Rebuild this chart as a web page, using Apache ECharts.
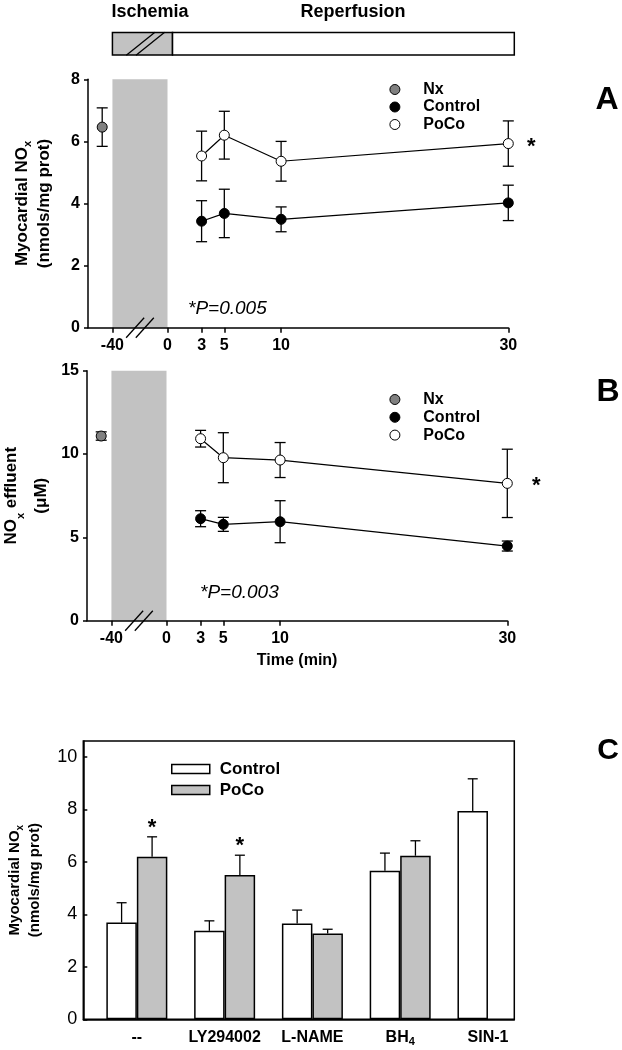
<!DOCTYPE html>
<html><head><meta charset="utf-8">
<script src="https://cdn.jsdelivr.net/npm/echarts@6/dist/echarts.min.js"></script>
<style>html,body{margin:0;padding:0;background:#fff}#c{width:622px;height:1050px}</style>
</head><body><div id="c"></div>
<script>
const FONT = '"Liberation Sans", Arial, sans-serif';

// ---------- Data ----------
// Panel A: myocardial NOx (nmols/mg prot)
const timesA = [3, 5, 10, 30];
const nxA = 6.46, nxAErr = 0.62;
const controlA = [3.43, 3.68, 3.49, 4.02];
const controlAErr = [0.66, 0.78, 0.40, 0.57];
const pocoA = [5.53, 6.20, 5.36, 5.93];
const pocoAErr = [0.80, 0.77, 0.64, 0.73];
// Panel B: NOx effluent (µM)
const timesB = [3, 5, 10, 30];
const nxB = 11.08, nxBErr = 0.25;
const controlB = [6.12, 5.78, 5.94, 4.48];
const controlBErr = [0.48, 0.42, 1.26, 0.30];
const pocoB = [10.92, 9.78, 9.64, 8.24];
const pocoBErr = [0.50, 1.50, 1.05, 2.05];
// Panel C: myocardial NOx by treatment
const categoriesC = ['--', 'LY294002', 'L-NAME', 'BH4', 'SIN-1'];
const controlC = [3.69, 3.37, 3.65, 5.66, 7.93];
const controlCErr = [0.75, 0.38, 0.51, 0.67, 1.23];
const pocoC = [6.19, 5.50, 3.27, 6.23, null];
const pocoCErr = [0.76, 0.75, 0.16, 0.57, null];
const pocoCSig = [1, 1, 0, 0, 0];
// Axis ticks
const tickTimes = [-40, 0, 3, 5, 10, 30];
const xTickLabels = ['-40', '0', '3', '5', '10', '30'];
const yTicksA = [0, 2, 4, 6, 8];
const yTicksB = [0, 5, 10, 15];
const yTicksC = [0, 2, 4, 6, 8, 10];
// Protocol phases (min)
const phases = [[-40, 0], [0, 30]];

// ---------- Broken time axis mapping ----------
const BREAK_POS = -4.85;   // axis position of -40 min (ischemia compressed)
const NX_POS = -5.75;      // baseline (normoxia) point, left of ischemia
function axisPos(t) { return t < 0 ? BREAK_POS * t / -40 : t; }
const tickPos = tickTimes.map(axisPos);
function tickLabel(v) {
  const i = tickPos.findIndex(p => Math.abs(p - v) < 1e-6);
  return i < 0 ? '' : xTickLabels[i];
}

const BLACK = '#000';
const GRAY = '#c2c2c2';
const chart = echarts.init(document.getElementById('c'));

function timeXAxis(gi, extra) {
  return Object.assign({
    type: 'value', gridIndex: gi, min: -7, max: 30, z: 3,
    axisLine: { show: true, onZero: false, lineStyle: { color: BLACK, width: 1.5 } },
    axisTick: { show: true, customValues: tickPos, length: 5, lineStyle: { color: BLACK, width: 1.5 } },
    axisLabel: { customValues: tickPos, formatter: tickLabel, color: BLACK, fontFamily: FONT, fontWeight: 'bold', fontSize: 16, margin: 10 },
    splitLine: { show: false }
  }, extra || {});
}
function nameStyle(size, lh) {
  return {
    fontFamily: FONT, fontWeight: 'bold', fontSize: size, lineHeight: lh, color: BLACK,
    rich: { sub: { fontFamily: FONT, fontWeight: 'bold', fontSize: Math.round(size * 0.65), verticalAlign: 'bottom', lineHeight: lh - 10, color: BLACK } }
  };
}
function valueYAxis(gi, max, ticks, name, gap, size, lh) {
  return {
    type: 'value', gridIndex: gi, min: 0, max: max, z: 3,
    axisLine: { show: true, onZero: false, lineStyle: { color: BLACK, width: 1.5 } },
    axisTick: { show: true, customValues: ticks, length: 4, lineStyle: { color: BLACK, width: 1.5 } },
    axisLabel: { customValues: ticks, color: BLACK, fontFamily: FONT, fontWeight: 'bold', fontSize: 16, margin: 8 },
    splitLine: { show: false },
    name: name, nameLocation: 'middle', nameRotate: 90, nameGap: gap, nameMoveOverlap: false,
    nameTextStyle: nameStyle(size, lh)
  };
}

function errSeries(xi, yi, data, cap, upOnly, barHalf) {
  return {
    type: 'custom', xAxisIndex: xi, yAxisIndex: yi, z: 2, silent: true,
    encode: { x: 0, y: 1 },
    data: data,
    renderItem: function (params, api) {
      const x = api.value(0), y = api.value(1), e = api.value(2);
      const side = api.value(3) || 0, sig = api.value(4) || 0;
      const c = api.coord([x, y]);
      const hi = api.coord([x, y + e]);
      const lo = api.coord([x, y - e]);
      const px = c[0] + side * (barHalf || 0);
      const st = { stroke: BLACK, lineWidth: 1.3 };
      const ch = [
        { type: 'line', shape: { x1: px, y1: upOnly ? c[1] : lo[1], x2: px, y2: hi[1] }, style: st },
        { type: 'line', shape: { x1: px - cap, y1: hi[1], x2: px + cap, y2: hi[1] }, style: st }
      ];
      if (!upOnly) ch.push({ type: 'line', shape: { x1: px - cap, y1: lo[1], x2: px + cap, y2: lo[1] }, style: st });
      if (sig) ch.push({ type: 'text', style: { x: px, y: hi[1] - 9, text: '*', align: 'center', verticalAlign: 'middle', font: 'bold 22px ' + FONT, fill: BLACK } });
      return { type: 'group', children: ch };
    }
  };
}

function breakSeries(xi, yi, yVal, frac, hdx, hdy, sep) {
  return {
    type: 'custom', xAxisIndex: xi, yAxisIndex: yi, z: 10, silent: true,
    data: [[axisPos(-40), yVal]],
    renderItem: function (params, api) {
      const a = api.coord([axisPos(-40), yVal]);
      const b = api.coord([0, yVal]);
      const cx = a[0] + (b[0] - a[0]) * frac, cy = a[1];
      const st = { stroke: BLACK, lineWidth: 1.3 };
      return { type: 'group', children: [-1, 1].map(s => ({
        type: 'line', shape: { x1: cx + s * sep / 2 - hdx, y1: cy + hdy, x2: cx + s * sep / 2 + hdx, y2: cy - hdy }, style: st
      })) };
    }
  };
}

function panelSeries(xi, yi, nx, nxErr, times, ctrl, ctrlErr, poco, pocoErr, yMax, starDx) {
  const errData = [[NX_POS, nx, nxErr]]
    .concat(times.map((t, i) => [axisPos(t), ctrl[i], ctrlErr[i]]))
    .concat(times.map((t, i) => [axisPos(t), poco[i], pocoErr[i]]));
  const last = times.length - 1;
  return [
    breakSeries(xi, yi, 0, 0.5, 9, 10, 9.7),
    errSeries(xi, yi, errData, 5.5, false, 0),
    {
      type: 'scatter', name: 'Nx', xAxisIndex: xi, yAxisIndex: yi, z: 4, silent: true,
      data: [[NX_POS, nx]], symbol: 'circle', symbolSize: 10,
      itemStyle: { color: '#808080', borderColor: BLACK, borderWidth: 1, opacity: 1 }
    },
    {
      type: 'line', name: 'Control', xAxisIndex: xi, yAxisIndex: yi, z: 4, silent: true,
      data: times.map((t, i) => [axisPos(t), ctrl[i]]),
      symbol: 'circle', symbolSize: 10, showSymbol: true,
      itemStyle: { color: BLACK, borderColor: BLACK, borderWidth: 1 },
      lineStyle: { color: BLACK, width: 1.2 },
      markArea: {
        silent: true, itemStyle: { color: GRAY, opacity: 1 },
        data: [[{ xAxis: axisPos(-40), yAxis: 0 }, { xAxis: 0, yAxis: yMax }]]
      }
    },
    {
      type: 'line', name: 'PoCo', xAxisIndex: xi, yAxisIndex: yi, z: 4, silent: true,
      data: times.map((t, i) => [axisPos(t), poco[i]]),
      symbol: 'circle', symbolSize: 10, showSymbol: true,
      itemStyle: { color: '#fff', borderColor: BLACK, borderWidth: 1 },
      lineStyle: { color: BLACK, width: 1.2 },
      markPoint: {
        silent: true, symbol: 'circle', symbolSize: 1, itemStyle: { color: 'rgba(0,0,0,0)' },
        label: { show: true, position: 'inside', formatter: '*', color: BLACK, fontFamily: FONT, fontWeight: 'bold', fontSize: 22, offset: [starDx, 3] },
        data: [{ coord: [axisPos(times[last]), poco[last]] }]
      }
    }
  ];
}

const legendText = { fontFamily: FONT, fontWeight: 'bold', fontSize: 16, lineHeight: 16, color: BLACK };
const dotLegendData = [
  { name: 'Nx', itemStyle: { color: '#808080', borderColor: BLACK, borderWidth: 1 } },
  { name: 'Control', itemStyle: { color: BLACK, borderColor: BLACK, borderWidth: 1 } },
  { name: 'PoCo', itemStyle: { color: '#fff', borderColor: BLACK, borderWidth: 1 } }
];

function txt(x, y, text, font, align) {
  return { type: 'text', x: x, y: y, silent: true, style: { text: text, font: font, fill: BLACK, align: align || 'center', verticalAlign: 'middle' } };
}

const option = {
  animation: false,
  backgroundColor: '#fff',
  grid: [
    { left: 88, right: 113.7, top: 32.5, height: 22.5, outerBoundsMode: 'none' },
    { left: 88, right: 113.7, top: 79.3, height: 248.4, outerBoundsMode: 'none' },
    { left: 87, right: 114.7, top: 370.7, height: 250, outerBoundsMode: 'none' },
    { left: 83.3, right: 107.7, top: 741, height: 278.3, outerBoundsMode: 'none', show: true, borderColor: BLACK, borderWidth: 1.5, backgroundColor: 'rgba(0,0,0,0)' }
  ],
  xAxis: [
    { type: 'value', gridIndex: 0, min: -7, max: 30, show: false },
    timeXAxis(1),
    timeXAxis(2, { name: 'Time (min)', nameLocation: 'middle', nameGap: 32, nameMoveOverlap: false, nameTextStyle: { fontFamily: FONT, fontWeight: 'bold', fontSize: 16, color: BLACK } }),
    {
      type: 'value', gridIndex: 3, min: -0.61, max: 4.3, z: 3,
      axisLine: { show: true, onZero: false, lineStyle: { color: BLACK, width: 1.5 } },
      axisTick: { show: false },
      axisLabel: {
        customValues: [0, 1, 2, 3, 4],
        formatter: v => (categoriesC[v] || '').replace(/^BH(\d)$/, 'BH{sub|$1}'),
        color: BLACK, fontFamily: FONT, fontWeight: 'bold', fontSize: 16, lineHeight: 20, margin: 8,
        rich: { sub: { fontFamily: FONT, fontWeight: 'bold', fontSize: 11, verticalAlign: 'bottom', lineHeight: 12, color: BLACK } }
      },
      splitLine: { show: false }
    }
  ],
  yAxis: [
    { type: 'value', gridIndex: 0, min: 0, max: 1, show: false },
    valueYAxis(1, 8, yTicksA, 'Myocardial NO{sub|x}\n(nmols/mg prot)', 33, 17, 22),
    valueYAxis(2, 15, yTicksB, 'NO{sub|x} effluent\n(μM)', 31, 17, 30),
    {
      type: 'value', gridIndex: 3, min: 0, max: 10.6, z: 3,
      axisLine: { show: true, onZero: false, lineStyle: { color: BLACK, width: 1.5 } },
      axisTick: { show: true, inside: true, customValues: yTicksC, length: 4, lineStyle: { color: BLACK, width: 1.5 } },
      axisLabel: { customValues: yTicksC, color: BLACK, fontFamily: FONT, fontSize: 18, margin: 6 },
      splitLine: { show: false },
      name: 'Myocardial NO{sub|x}\n(nmols/mg prot)', nameLocation: 'middle', nameRotate: 90, nameGap: 38, nameMoveOverlap: false,
      nameTextStyle: nameStyle(15, 20)
    }
  ],
  legend: [
    { left: 389.4, top: 81.5, orient: 'vertical', padding: 0, itemGap: 1.5, itemWidth: 46.8, itemHeight: 10, icon: 'circle', selectedMode: false, textStyle: legendText, data: dotLegendData },
    { left: 389.4, top: 391.5, orient: 'vertical', padding: 0, itemGap: 1.8, itemWidth: 46.8, itemHeight: 10, icon: 'circle', selectedMode: false, textStyle: legendText, data: dotLegendData },
    {
      left: 171, top: 760.5, orient: 'vertical', padding: 0, itemGap: 4, itemWidth: 38, itemHeight: 9, icon: 'rect', selectedMode: false,
      formatter: n => n.replace(' (C)', ''),
      textStyle: Object.assign({}, legendText, { fontSize: 17, lineHeight: 17, padding: [0, 0, 0, 5] }),
      data: [
        { name: 'Control (C)', itemStyle: { color: '#fff', borderColor: BLACK, borderWidth: 1.5 } },
        { name: 'PoCo (C)', itemStyle: { color: GRAY, borderColor: BLACK, borderWidth: 1.5 } }
      ]
    }
  ],
  series: [
    {
      type: 'custom', xAxisIndex: 0, yAxisIndex: 0, z: 2, silent: true,
      data: phases.map((p, i) => [axisPos(p[0]), axisPos(p[1]), i]),
      renderItem: function (params, api) {
        const i = api.value(2);
        const a = api.coord([api.value(0), 1]);
        const b = api.coord([api.value(1), 0]);
        const x0 = i === 0 ? a[0] : a[0] + 5;
        const x1 = i === 0 ? b[0] + 5 : b[0] + 6;
        return { type: 'rect', shape: { x: x0, y: a[1], width: x1 - x0, height: b[1] - a[1] }, style: { fill: i === 0 ? GRAY : '#fff', stroke: BLACK, lineWidth: 1.5 } };
      }
    },
    breakSeries(0, 0, 0.5, 0.6, 14.3, 11.5, 9.7)
  ]
    .concat(panelSeries(1, 1, nxA, nxAErr, timesA, controlA, controlAErr, pocoA, pocoAErr, 8, 23))
    .concat(panelSeries(2, 2, nxB, nxBErr, timesB, controlB, controlBErr, pocoB, pocoBErr, 15, 29))
    .concat([
      {
        type: 'bar', name: 'Control (C)', xAxisIndex: 3, yAxisIndex: 3, silent: true,
        data: controlC.map((v, i) => [i, v]), barWidth: 30.5, barGap: '0%',
        itemStyle: { color: '#fff', borderColor: BLACK, borderWidth: 1.5 }
      },
      {
        type: 'bar', name: 'PoCo (C)', xAxisIndex: 3, yAxisIndex: 3, silent: true,
        data: pocoC.map((v, i) => [i, v]).filter(d => d[1] != null), barWidth: 30.5, barGap: '0%',
        itemStyle: { color: GRAY, borderColor: BLACK, borderWidth: 1.5 }
      },
      errSeries(3, 3,
        controlC.map((v, i) => [i, v, controlCErr[i], -1, 0])
          .concat(pocoC.map((v, i) => [i, v, pocoCErr[i], 1, pocoCSig[i]]).filter(d => d[1] != null)),
        5, true, 15.25)
    ]),
  graphic: [
    txt(150, 12, 'Ischemia', 'bold 18px ' + FONT),
    txt(353, 12, 'Reperfusion', 'bold 18px ' + FONT),
    txt(607, 100, 'A', 'bold 32px ' + FONT),
    txt(608, 392, 'B', 'bold 32px ' + FONT),
    txt(608, 751, 'C', 'bold 30px ' + FONT),
    txt(188, 309, '*P=0.005', 'italic 19px ' + FONT, 'left'),
    txt(200, 593, '*P=0.003', 'italic 19px ' + FONT, 'left')
  ]
};
chart.setOption(option);
</script>
</body></html>
